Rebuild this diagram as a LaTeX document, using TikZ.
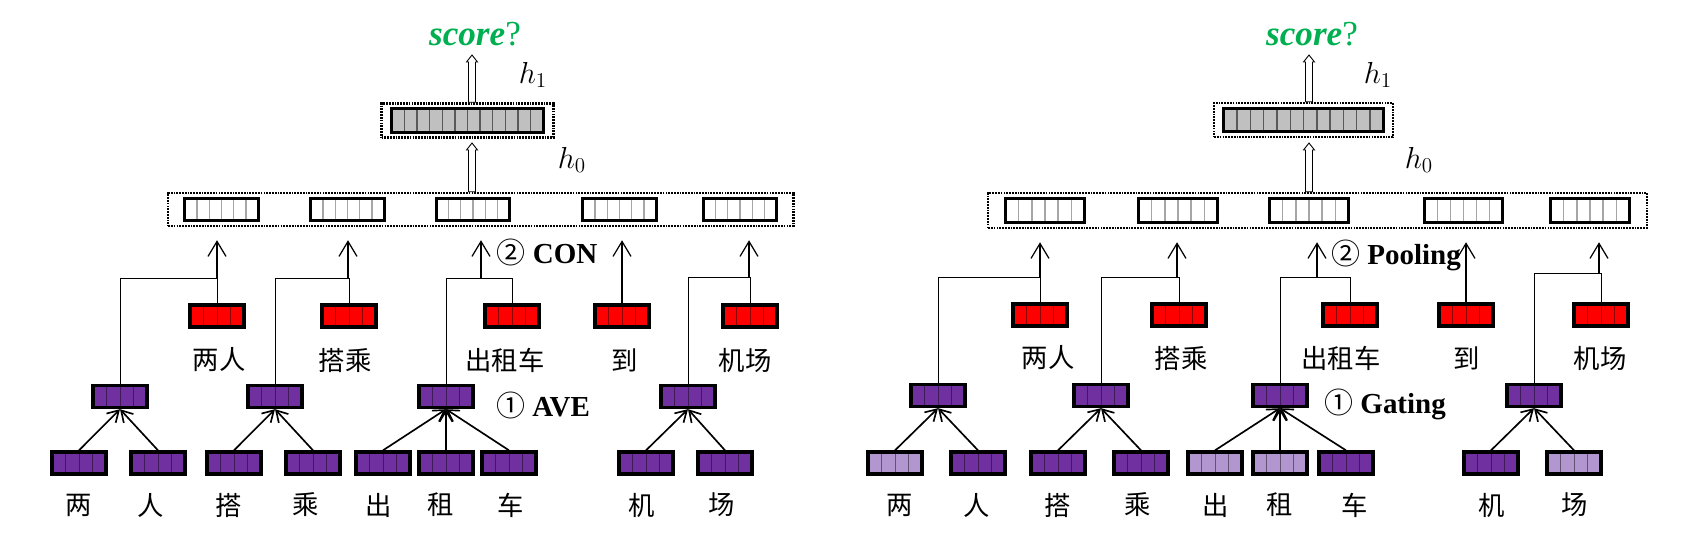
\documentclass[tikz,border=0pt]{standalone}
\usepackage{fontspec}
\setmainfont{Liberation Serif}
\newfontfamily\cjk{Noto Sans CJK SC}
\usepackage{tikz}
\usetikzlibrary{arrows.meta,calc,fit}
\definecolor{scoregreen}{RGB}{0,176,80}
\definecolor{dpurple}{RGB}{112,48,160}
\definecolor{lpurple}{RGB}{178,150,208}
\definecolor{vecgrey}{RGB}{192,192,192}

\tikzset{
  cells/.style n args={2}{path picture={
    \pgfmathtruncatemacro{\ndiv}{#1-1}
    \foreach \k in {1,...,\ndiv}
      \draw[#2] ($(path picture bounding box.north west)!{\k/#1}!(path picture bounding box.north east)$)
        -- ($(path picture bounding box.south west)!{\k/#1}!(path picture bounding box.south east)$);
  }},
  smallvec/.style={draw, line width=1.9pt, fill=#1, minimum width=1.08cm, minimum height=0.44cm,
    inner sep=0pt, cells={4}{#1!55!black,line width=0.5pt}},
  hvec/.style={draw, line width=1.9pt, fill=white, minimum width=1.47cm, minimum height=0.43cm,
    inner sep=0pt, cells={6}{gray!70,line width=0.7pt}},
  hbig/.style={draw, line width=1.9pt, fill=vecgrey, minimum height=0.47cm,
    inner sep=0pt, cells={12}{black!65,line width=0.8pt}},
  dotbox/.style={draw, line width=1.5pt, dash pattern=on 1pt off 0.6pt, inner sep=0pt},
  bar/.style={line width=0.55pt},
  uparrow/.style={line width=0.7pt, -{Straight Barb[length=3mm,width=3.6mm]}, shorten >=0.26cm},
  leafarrow/.style={line width=0.95pt, -{Straight Barb[length=2.2mm,width=2.6mm]}},
  hollow/.style={line width=0.5pt, fill=white},
  word/.style={font=\cjk\fontsize{15}{18}\selectfont, inner sep=0pt},
  steplabel/.style={font=\fontsize{16.5}{20}\selectfont\bfseries, inner sep=0pt},
  hlabel/.style={font=\fontsize{18}{21}\selectfont, inner sep=0pt},
  scorelabel/.style={font=\fontsize{20}{23}\selectfont, text=scoregreen, inner sep=0pt}
}

% hollow upward arrow from #1 to the tip #2
\newcommand{\hollowup}[2]{%
  \draw[hollow] ($(#1)+(-3.5,0)$) -- ($(#2)+(-3.5,7)$) -- ($(#2)+(-5.5,7)$) -- (#2)
    -- ($(#2)+(5.5,7)$) -- ($(#2)+(3.5,7)$) -- ($(#1)+(3.5,0)$) -- cycle;}

\begin{document}
\begin{tikzpicture}[x=0.02cm,y=-0.02cm]
\useasboundingbox (0,0) rectangle (1704,552);

%%%%% left panel: AVE + CON
% score and hidden layer labels
\node[scorelabel] (ascore) at (475,34) {\textbf{\textit{score}}?};
\node[hlabel] (ah1t) at (533,75) {$h_1$};
\node[hlabel] (ah0t) at (572,160) {$h_0$};
% h1 vector
\node[hbig, minimum width=3.03cm] (ah1v) at (467.5,120.5) {};
\node[dotbox, inner xsep=0.17cm, inner ysep=0.07cm, fit=(ah1v)] (ah1) {};
% h0 vectors
\node[hvec] (ah0v1) at (221.5,209.5) {};
\node[hvec] (ah0v2) at (347.5,209.5) {};
\node[hvec] (ah0v3) at (473,209.5) {};
\node[hvec] (ah0v4) at (619.5,209.5) {};
\node[hvec] (ah0v5) at (740,209.5) {};
\node[dotbox, inner xsep=0.3cm, inner ysep=0.08cm, fit=(ah0v1)(ah0v5)] (ah0) {};
% hollow arrows
\coordinate (atip0) at (472,143);
\coordinate (atip1) at (472,55);
\hollowup{atip0 |- ah0.north}{atip0}
\hollowup{atip1 |- ah1.north}{atip1}
% red phrase vectors
\node[smallvec=red] (ar1) at (217,316) {};
\node[smallvec=red] (ar2) at (349,316) {};
\node[smallvec=red] (ar3) at (512,316) {};
\node[smallvec=red] (ar4) at (622,316) {};
\node[smallvec=red] (ar5) at (750,316) {};
\node[word] (arw1) at (219,360) {两人};
\node[word] (arw2) at (345,360) {搭乘};
\node[word] (arw3) at (505,360) {出租车};
\node[word] (arw4) at (625,360) {到};
\node[word] (arw5) at (745,360) {机场};
% averaged vectors
\node[smallvec=dpurple] (am1) at (120,396.5) {};
\node[smallvec=dpurple] (am2) at (275,396.5) {};
\node[smallvec=dpurple] (am3) at (446,396.5) {};
\node[smallvec=dpurple] (am5) at (688,396.5) {};
% character vectors
\node[smallvec=dpurple] (al1) at (79,463) {};
\node[smallvec=dpurple] (al2) at (158,463) {};
\node[smallvec=dpurple] (al3) at (234,463) {};
\node[smallvec=dpurple] (al4) at (313,463) {};
\node[smallvec=dpurple] (al5) at (383,463) {};
\node[smallvec=dpurple] (al6) at (446,463) {};
\node[smallvec=dpurple] (al7) at (509,463) {};
\node[smallvec=dpurple] (al8) at (646,463) {};
\node[smallvec=dpurple] (al9) at (725,463) {};
\node[word] (alw1) at (79,505) {两};
\node[word] (alw2) at (151,505) {人};
\node[word] (alw3) at (229,505) {搭};
\node[word] (alw4) at (306,505) {乘};
\node[word] (alw5) at (379,505) {出};
\node[word] (alw6) at (441,505) {租};
\node[word] (alw7) at (511,505) {车};
\node[word] (alw8) at (642,505) {机};
\node[word] (alw9) at (722,505) {场};
% step labels
\node[steplabel] (acon) at (547,252) {{\cjk\mdseries ②} CON};
\node[steplabel] (aave) at (543,405) {{\cjk\mdseries ①} AVE};
% character arrows
\draw[leafarrow] (al1.north) -- (am1.south);
\draw[leafarrow] (al2.north) -- (am1.south);
\draw[leafarrow] (al3.north) -- (am2.south);
\draw[leafarrow] (al4.north) -- (am2.south);
\draw[leafarrow] (al5.north) -- (am3.south);
\draw[leafarrow] (al6.north) -- (am3.south);
\draw[leafarrow] (al7.north) -- (am3.south);
\draw[leafarrow] (al8.north) -- (am5.south);
\draw[leafarrow] (al9.north) -- (am5.south);
% concatenation brackets
\coordinate (ab1) at (217,278);
\coordinate (ab2) at (348,278);
\coordinate (ab3) at (481,278);
\coordinate (ab5) at (749,277);
\draw[bar] (am1.north) |- (ar1.north |- ab1) -- (ar1.north);
\draw[bar] (am2.north) |- (ar2.north |- ab2) -- (ar2.north);
\draw[bar] (am3.north) |- (ar3.north |- ab3) -- (ar3.north);
\draw[bar] (am5.north) |- (ar5.north |- ab5) -- (ar5.north);
\draw[uparrow] (ab1) -- (ab1 |- ah0.south);
\draw[uparrow] (ab2) -- (ab2 |- ah0.south);
\draw[uparrow] (ab3) -- (ab3 |- ah0.south);
\draw[uparrow] (ar4.north) -- (ar4.north |- ah0.south);
\draw[uparrow] (ab5) -- (ab5 |- ah0.south);

%%%%% right panel: Gating + Pooling
% score and hidden layer labels
\node[scorelabel] (gscore) at (1312,34) {\textbf{\textit{score}}?};
\node[hlabel] (gh1t) at (1378,75) {$h_1$};
\node[hlabel] (gh0t) at (1419,160) {$h_0$};
% h1 vector
\node[hbig, minimum width=3.19cm, minimum height=0.45cm] (gh1v) at (1303.5,120) {};
\node[dotbox, inner xsep=0.16cm, inner ysep=0.08cm, fit=(gh1v)] (gh1) {};
% h0 vectors
\node[hvec, minimum width=1.57cm, minimum height=0.47cm] (gh0v1) at (1045,210.5) {};
\node[hvec, minimum width=1.57cm, minimum height=0.47cm] (gh0v2) at (1178,210.5) {};
\node[hvec, minimum width=1.57cm, minimum height=0.47cm] (gh0v3) at (1309,210.5) {};
\node[hvec, minimum width=1.57cm, minimum height=0.47cm] (gh0v4) at (1463.5,210.5) {};
\node[hvec, minimum width=1.57cm, minimum height=0.47cm] (gh0v5) at (1590,210.5) {};
\node[dotbox, inner xsep=0.32cm, inner ysep=0.08cm, fit=(gh0v1)(gh0v5)] (gh0) {};
% hollow arrows
\coordinate (gtip0) at (1309,143);
\coordinate (gtip1) at (1309,55);
\hollowup{gtip0 |- gh0.north}{gtip0}
\hollowup{gtip1 |- gh1.north}{gtip1}
% red phrase vectors
\node[smallvec=red] (gr1) at (1040,315) {};
\node[smallvec=red] (gr2) at (1179,315) {};
\node[smallvec=red] (gr3) at (1350,315) {};
\node[smallvec=red] (gr4) at (1466,315) {};
\node[smallvec=red] (gr5) at (1601,315) {};
\node[word] (grw1) at (1048,358) {两人};
\node[word] (grw2) at (1181,358) {搭乘};
\node[word] (grw3) at (1341,358) {出租车};
\node[word] (grw4) at (1467,358) {到};
\node[word] (grw5) at (1600,358) {机场};
% gated vectors
\node[smallvec=dpurple] (gm1) at (938,395.5) {};
\node[smallvec=dpurple] (gm2) at (1101,395.5) {};
\node[smallvec=dpurple] (gm3) at (1280,395.5) {};
\node[smallvec=dpurple] (gm5) at (1534,395.5) {};
% character vectors
\node[smallvec=lpurple] (gl1) at (895,463) {};
\node[smallvec=dpurple] (gl2) at (978,463) {};
\node[smallvec=dpurple] (gl3) at (1058,463) {};
\node[smallvec=dpurple] (gl4) at (1141,463) {};
\node[smallvec=lpurple] (gl5) at (1215,463) {};
\node[smallvec=lpurple] (gl6) at (1280,463) {};
\node[smallvec=dpurple] (gl7) at (1346,463) {};
\node[smallvec=dpurple] (gl8) at (1491,463) {};
\node[smallvec=lpurple] (gl9) at (1574,463) {};
\node[word] (glw1) at (900,505) {两};
\node[word] (glw2) at (977,505) {人};
\node[word] (glw3) at (1058,505) {搭};
\node[word] (glw4) at (1138,505) {乘};
\node[word] (glw5) at (1216,505) {出};
\node[word] (glw6) at (1280,505) {租};
\node[word] (glw7) at (1355,505) {车};
\node[word] (glw8) at (1492,505) {机};
\node[word] (glw9) at (1575,505) {场};
% step labels
\node[steplabel] (gpool) at (1396,255) {{\cjk\mdseries ②} Pooling};
\node[steplabel] (ggate) at (1385,404) {{\cjk\mdseries ①} Gating};
% character arrows
\draw[leafarrow] (gl1.north) -- (gm1.south);
\draw[leafarrow] (gl2.north) -- (gm1.south);
\draw[leafarrow] (gl3.north) -- (gm2.south);
\draw[leafarrow] (gl4.north) -- (gm2.south);
\draw[leafarrow] (gl5.north) -- (gm3.south);
\draw[leafarrow] (gl6.north) -- (gm3.south);
\draw[leafarrow] (gl7.north) -- (gm3.south);
\draw[leafarrow] (gl8.north) -- (gm5.south);
\draw[leafarrow] (gl9.north) -- (gm5.south);
% pooling brackets
\coordinate (gb1) at (1040,277);
\coordinate (gb2) at (1177,277);
\coordinate (gb3) at (1317,277);
\coordinate (gb5) at (1599,273);
\draw[bar] (gm1.north) |- (gr1.north |- gb1) -- (gr1.north);
\draw[bar] (gm2.north) |- (gr2.north |- gb2) -- (gr2.north);
\draw[bar] (gm3.north) |- (gr3.north |- gb3) -- (gr3.north);
\draw[bar] (gm5.north) |- (gr5.north |- gb5) -- (gr5.north);
\draw[uparrow] (gb1) -- (gb1 |- gh0.south);
\draw[uparrow] (gb2) -- (gb2 |- gh0.south);
\draw[uparrow] (gb3) -- (gb3 |- gh0.south);
\draw[uparrow] (gr4.north) -- (gr4.north |- gh0.south);
\draw[uparrow] (gb5) -- (gb5 |- gh0.south);
\end{tikzpicture}
\end{document}
